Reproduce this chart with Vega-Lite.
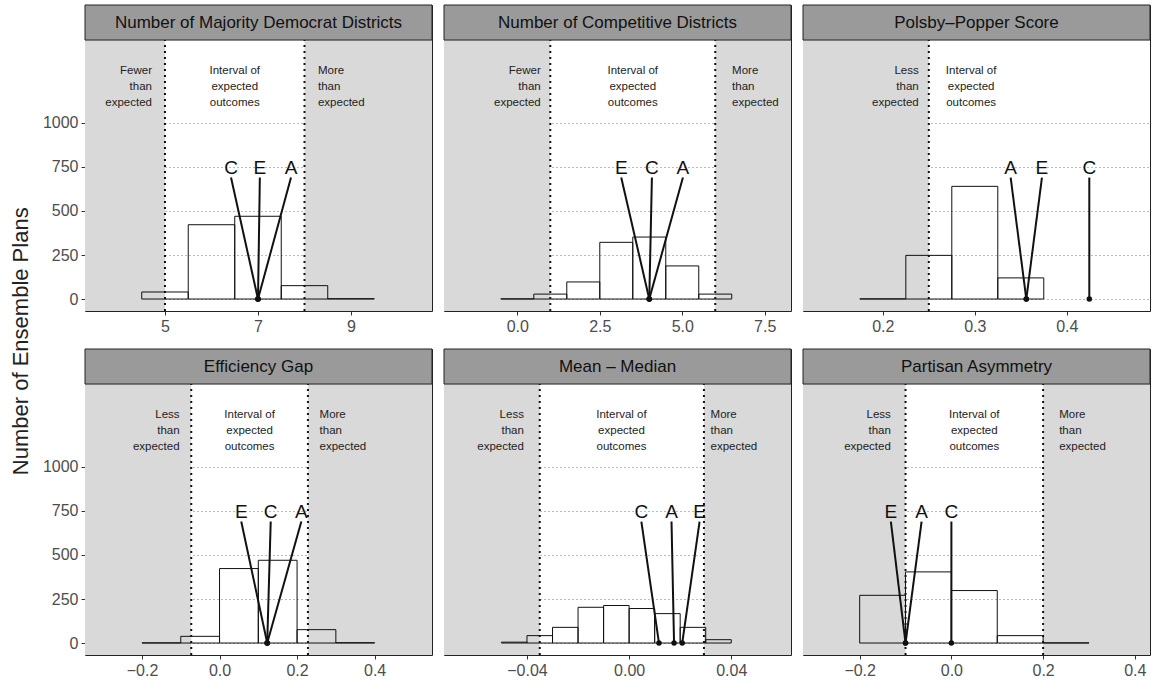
{
"$schema": "https://vega.github.io/schema/vega-lite/v6.json",
"background": "white",
"padding": {"left": 9, "top": 4, "right": 3, "bottom": 3},
"title": {"text": "Number of Ensemble Plans", "orient": "left", "anchor": "middle", "fontSize": 22, "fontWeight": "normal", "font": "Liberation Sans", "color": "#222", "offset": 9},
"datasets": {
"hist": [
{"panel": "dem", "x0": 4.5, "x1": 5.5, "count": 40},
{"panel": "dem", "x0": 5.5, "x1": 6.5, "count": 422},
{"panel": "dem", "x0": 6.5, "x1": 7.5, "count": 470},
{"panel": "dem", "x0": 7.5, "x1": 8.5, "count": 76},
{"panel": "dem", "x0": 8.5, "x1": 9.5, "count": 2},
{"panel": "comp", "x0": -0.5, "x1": 0.5, "count": 1},
{"panel": "comp", "x0": 0.5, "x1": 1.5, "count": 28},
{"panel": "comp", "x0": 1.5, "x1": 2.5, "count": 97},
{"panel": "comp", "x0": 2.5, "x1": 3.5, "count": 322},
{"panel": "comp", "x0": 3.5, "x1": 4.5, "count": 352},
{"panel": "comp", "x0": 4.5, "x1": 5.5, "count": 188},
{"panel": "comp", "x0": 5.5, "x1": 6.5, "count": 28},
{"panel": "pp", "x0": 0.175, "x1": 0.225, "count": 1},
{"panel": "pp", "x0": 0.225, "x1": 0.275, "count": 248},
{"panel": "pp", "x0": 0.275, "x1": 0.325, "count": 640},
{"panel": "pp", "x0": 0.325, "x1": 0.375, "count": 120},
{"panel": "eg", "x0": -0.2, "x1": -0.1, "count": 1},
{"panel": "eg", "x0": -0.1, "x1": 0.0, "count": 38},
{"panel": "eg", "x0": 0.0, "x1": 0.1, "count": 423},
{"panel": "eg", "x0": 0.1, "x1": 0.2, "count": 470},
{"panel": "eg", "x0": 0.2, "x1": 0.3, "count": 76},
{"panel": "eg", "x0": 0.3, "x1": 0.4, "count": 2},
{"panel": "mm", "x0": -0.05, "x1": -0.04, "count": 5},
{"panel": "mm", "x0": -0.04, "x1": -0.03, "count": 42},
{"panel": "mm", "x0": -0.03, "x1": -0.02, "count": 89},
{"panel": "mm", "x0": -0.02, "x1": -0.01, "count": 203},
{"panel": "mm", "x0": -0.01, "x1": 0.0, "count": 213},
{"panel": "mm", "x0": 0.0, "x1": 0.01, "count": 196},
{"panel": "mm", "x0": 0.01, "x1": 0.02, "count": 167},
{"panel": "mm", "x0": 0.02, "x1": 0.03, "count": 89},
{"panel": "mm", "x0": 0.03, "x1": 0.04, "count": 19},
{"panel": "pa", "x0": -0.2, "x1": -0.1, "count": 271},
{"panel": "pa", "x0": -0.1, "x1": 0.0, "count": 404},
{"panel": "pa", "x0": 0.0, "x1": 0.1, "count": 298},
{"panel": "pa", "x0": 0.1, "x1": 0.2, "count": 42},
{"panel": "pa", "x0": 0.2, "x1": 0.3, "count": 1}
],
"bounds": [
{"panel": "dem", "x": 5}, {"panel": "dem", "x": 8},
{"panel": "comp", "x": 1}, {"panel": "comp", "x": 6},
{"panel": "pp", "x": 0.25},
{"panel": "eg", "x": -0.073}, {"panel": "eg", "x": 0.228},
{"panel": "mm", "x": -0.035}, {"panel": "mm", "x": 0.0293},
{"panel": "pa", "x": -0.1}, {"panel": "pa", "x": 0.2}
],
"shade": [
{"panel": "dem", "x0": 3.28, "x1": 5}, {"panel": "dem", "x0": 8, "x1": 10.742},
{"panel": "comp", "x0": -2.222, "x1": 1}, {"panel": "comp", "x0": 6, "x1": 8.296},
{"panel": "pp", "x0": 0.1132, "x1": 0.25},
{"panel": "eg", "x0": -0.347, "x1": -0.073}, {"panel": "eg", "x0": 0.228, "x1": 0.548},
{"panel": "mm", "x0": -0.0725, "x1": -0.035}, {"panel": "mm", "x0": 0.0293, "x1": 0.0634},
{"panel": "pa", "x0": -0.3236, "x1": -0.1}, {"panel": "pa", "x0": 0.2, "x1": 0.4331}
],
"strip": [
{"panel": "dem", "title": "Number of Majority Democrat Districts", "xmin": 3.28, "xmax": 10.742, "xmid": 7.011},
{"panel": "comp", "title": "Number of Competitive Districts", "xmin": -2.222, "xmax": 8.296, "xmid": 3.037},
{"panel": "pp", "title": "Polsby–Popper Score", "xmin": 0.1132, "xmax": 0.4905, "xmid": 0.30185},
{"panel": "eg", "title": "Efficiency Gap", "xmin": -0.347, "xmax": 0.548, "xmid": 0.1005},
{"panel": "mm", "title": "Mean – Median", "xmin": -0.0725, "xmax": 0.0634, "xmid": -0.00455},
{"panel": "pa", "title": "Partisan Asymmetry", "xmin": -0.3236, "xmax": 0.4331, "xmid": 0.05475}
],
"notes": [
{"panel": "dem", "side": "below", "x": 4.72, "note": "Fewer\nthan\nexpected"},
{"panel": "dem", "side": "interval", "x": 6.5, "note": "Interval of\nexpected\noutcomes"},
{"panel": "dem", "side": "above", "x": 8.29, "note": "More\nthan\nexpected"},
{"panel": "comp", "side": "below", "x": 0.71, "note": "Fewer\nthan\nexpected"},
{"panel": "comp", "side": "interval", "x": 3.5, "note": "Interval of\nexpected\noutcomes"},
{"panel": "comp", "side": "above", "x": 6.51, "note": "More\nthan\nexpected"},
{"panel": "pp", "side": "below", "x": 0.239, "note": "Less\nthan\nexpected"},
{"panel": "pp", "side": "interval", "x": 0.296, "note": "Interval of\nexpected\noutcomes"},
{"panel": "eg", "side": "below", "x": -0.103, "note": "Less\nthan\nexpected"},
{"panel": "eg", "side": "interval", "x": 0.0775, "note": "Interval of\nexpected\noutcomes"},
{"panel": "eg", "side": "above", "x": 0.258, "note": "More\nthan\nexpected"},
{"panel": "mm", "side": "below", "x": -0.0412, "note": "Less\nthan\nexpected"},
{"panel": "mm", "side": "interval", "x": -0.003, "note": "Interval of\nexpected\noutcomes"},
{"panel": "mm", "side": "above", "x": 0.0319, "note": "More\nthan\nexpected"},
{"panel": "pa", "side": "below", "x": -0.132, "note": "Less\nthan\nexpected"},
{"panel": "pa", "side": "interval", "x": 0.05, "note": "Interval of\nexpected\noutcomes"},
{"panel": "pa", "side": "above", "x": 0.235, "note": "More\nthan\nexpected"}
],
"plans": [
{"panel": "dem", "plan": "C", "value": 7, "labelx": 6.42},
{"panel": "dem", "plan": "E", "value": 7, "labelx": 7.04},
{"panel": "dem", "plan": "A", "value": 7, "labelx": 7.71},
{"panel": "comp", "plan": "E", "value": 4, "labelx": 3.15},
{"panel": "comp", "plan": "C", "value": 4, "labelx": 4.08},
{"panel": "comp", "plan": "A", "value": 4, "labelx": 5.02},
{"panel": "pp", "plan": "A", "value": 0.356, "labelx": 0.339},
{"panel": "pp", "plan": "E", "value": 0.356, "labelx": 0.373},
{"panel": "pp", "plan": "C", "value": 0.4245, "labelx": 0.4245},
{"panel": "eg", "plan": "E", "value": 0.123, "labelx": 0.056},
{"panel": "eg", "plan": "C", "value": 0.123, "labelx": 0.132},
{"panel": "eg", "plan": "A", "value": 0.123, "labelx": 0.211},
{"panel": "mm", "plan": "C", "value": 0.0117, "labelx": 0.0048},
{"panel": "mm", "plan": "A", "value": 0.0176, "labelx": 0.0166},
{"panel": "mm", "plan": "E", "value": 0.0208, "labelx": 0.0276},
{"panel": "pa", "plan": "E", "value": -0.1, "labelx": -0.132},
{"panel": "pa", "plan": "A", "value": -0.1, "labelx": -0.065},
{"panel": "pa", "plan": "C", "value": 0, "labelx": 0}
]
},
"columns": 3,
"spacing": {"row": 38, "column": 12},
"bounds": "flush",
"concat": [
{"width": 347, "height": 306, "layer": [
{"data": {"name": "shade"}, "transform": [{"filter": {"field": "panel", "equal": "dem"}}], "mark": {"type": "rect", "fill": "#d9d9d9"},
 "encoding": {"x": {"field": "x0", "type": "quantitative", "title": null, "scale": {"domain": [3.28, 10.742], "nice": false, "zero": false}, "axis": {"values": [5, 7, 9], "format": "d", "title": null}}, "x2": {"field": "x1"},
  "y": {"datum": -68, "type": "quantitative", "title": null, "scale": {"domain": [-68, 1670], "nice": false, "zero": false}, "axis": {"values": [0, 250, 500, 750, 1000], "format": "d", "title": null}}, "y2": {"datum": 1471}}},
{"data": {"name": "hist"}, "transform": [{"filter": {"field": "panel", "equal": "dem"}}], "mark": {"type": "rect", "fill": "transparent", "stroke": "#111", "strokeWidth": 1},
 "encoding": {"x": {"field": "x0", "type": "quantitative", "title": null}, "x2": {"field": "x1"}, "y": {"field": "count", "type": "quantitative", "title": null}, "y2": {"datum": 0}}},
{"data": {"name": "bounds"}, "transform": [{"filter": {"field": "panel", "equal": "dem"}}], "mark": {"type": "rule", "strokeDash": [2, 4], "strokeWidth": 2, "color": "#111"},
 "encoding": {"x": {"field": "x", "type": "quantitative", "title": null}, "y": {"datum": -68, "type": "quantitative", "title": null}, "y2": {"datum": 1471}}},
{"data": {"name": "notes"}, "transform": [{"filter": {"and": [{"field": "panel", "equal": "dem"}, {"field": "side", "equal": "below"}]}}], "mark": {"type": "text", "align": "right", "baseline": "middle", "lineBreak": "\n", "lineHeight": 16, "fontSize": 11.5, "font": "Liberation Sans", "color": "#222"},
 "encoding": {"x": {"field": "x", "type": "quantitative", "title": null}, "y": {"datum": 1295, "type": "quantitative", "title": null}, "text": {"field": "note"}}},
{"data": {"name": "notes"}, "transform": [{"filter": {"and": [{"field": "panel", "equal": "dem"}, {"field": "side", "equal": "interval"}]}}], "mark": {"type": "text", "align": "center", "baseline": "middle", "lineBreak": "\n", "lineHeight": 16, "fontSize": 11.5, "font": "Liberation Sans", "color": "#222"},
 "encoding": {"x": {"field": "x", "type": "quantitative", "title": null}, "y": {"datum": 1295, "type": "quantitative", "title": null}, "text": {"field": "note"}}},
{"data": {"name": "notes"}, "transform": [{"filter": {"and": [{"field": "panel", "equal": "dem"}, {"field": "side", "equal": "above"}]}}], "mark": {"type": "text", "align": "left", "baseline": "middle", "lineBreak": "\n", "lineHeight": 16, "fontSize": 11.5, "font": "Liberation Sans", "color": "#222"},
 "encoding": {"x": {"field": "x", "type": "quantitative", "title": null}, "y": {"datum": 1295, "type": "quantitative", "title": null}, "text": {"field": "note"}}},
{"data": {"name": "plans"}, "transform": [{"filter": {"field": "panel", "equal": "dem"}}], "mark": {"type": "rule", "strokeWidth": 2, "color": "#111"},
 "encoding": {"x": {"field": "labelx", "type": "quantitative", "title": null}, "x2": {"field": "value"}, "y": {"datum": 690, "type": "quantitative", "title": null}, "y2": {"datum": 0}}},
{"data": {"name": "plans"}, "transform": [{"filter": {"field": "panel", "equal": "dem"}}], "mark": {"type": "point", "filled": true, "size": 30, "color": "#111", "opacity": 1},
 "encoding": {"x": {"field": "value", "type": "quantitative", "title": null}, "y": {"datum": 0, "type": "quantitative", "title": null}}},
{"data": {"name": "plans"}, "transform": [{"filter": {"field": "panel", "equal": "dem"}}], "mark": {"type": "text", "fontSize": 19, "font": "Liberation Sans", "baseline": "middle", "align": "center", "color": "#111"},
 "encoding": {"x": {"field": "labelx", "type": "quantitative", "title": null}, "y": {"datum": 745, "type": "quantitative", "title": null}, "text": {"field": "plan"}}},
{"data": {"name": "strip"}, "transform": [{"filter": {"field": "panel", "equal": "dem"}}], "mark": {"type": "rect", "fill": "#9a9a9a", "stroke": "#222", "strokeWidth": 1},
 "encoding": {"x": {"field": "xmin", "type": "quantitative", "title": null}, "x2": {"field": "xmax"}, "y": {"datum": 1471, "type": "quantitative", "title": null}, "y2": {"datum": 1670}}},
{"data": {"name": "strip"}, "transform": [{"filter": {"field": "panel", "equal": "dem"}}], "mark": {"type": "text", "fontSize": 17, "font": "Liberation Sans", "baseline": "middle", "align": "center", "color": "#111"},
 "encoding": {"x": {"field": "xmid", "type": "quantitative", "title": null}, "y": {"datum": 1570, "type": "quantitative", "title": null}, "text": {"field": "title"}}}
]},
{"width": 347, "height": 306, "layer": [
{"data": {"name": "shade"}, "transform": [{"filter": {"field": "panel", "equal": "comp"}}], "mark": {"type": "rect", "fill": "#d9d9d9"},
 "encoding": {"x": {"field": "x0", "type": "quantitative", "title": null, "scale": {"domain": [-2.222, 8.296], "nice": false, "zero": false}, "axis": {"values": [0, 2.5, 5, 7.5], "format": ".1f", "title": null}}, "x2": {"field": "x1"},
  "y": {"datum": -68, "type": "quantitative", "title": null, "scale": {"domain": [-68, 1670], "nice": false, "zero": false}, "axis": {"values": [0, 250, 500, 750, 1000], "title": null, "labels": false, "ticks": false}}, "y2": {"datum": 1471}}},
{"data": {"name": "hist"}, "transform": [{"filter": {"field": "panel", "equal": "comp"}}], "mark": {"type": "rect", "fill": "transparent", "stroke": "#111", "strokeWidth": 1},
 "encoding": {"x": {"field": "x0", "type": "quantitative", "title": null}, "x2": {"field": "x1"}, "y": {"field": "count", "type": "quantitative", "title": null}, "y2": {"datum": 0}}},
{"data": {"name": "bounds"}, "transform": [{"filter": {"field": "panel", "equal": "comp"}}], "mark": {"type": "rule", "strokeDash": [2, 4], "strokeWidth": 2, "color": "#111"},
 "encoding": {"x": {"field": "x", "type": "quantitative", "title": null}, "y": {"datum": -68, "type": "quantitative", "title": null}, "y2": {"datum": 1471}}},
{"data": {"name": "notes"}, "transform": [{"filter": {"and": [{"field": "panel", "equal": "comp"}, {"field": "side", "equal": "below"}]}}], "mark": {"type": "text", "align": "right", "baseline": "middle", "lineBreak": "\n", "lineHeight": 16, "fontSize": 11.5, "font": "Liberation Sans", "color": "#222"},
 "encoding": {"x": {"field": "x", "type": "quantitative", "title": null}, "y": {"datum": 1295, "type": "quantitative", "title": null}, "text": {"field": "note"}}},
{"data": {"name": "notes"}, "transform": [{"filter": {"and": [{"field": "panel", "equal": "comp"}, {"field": "side", "equal": "interval"}]}}], "mark": {"type": "text", "align": "center", "baseline": "middle", "lineBreak": "\n", "lineHeight": 16, "fontSize": 11.5, "font": "Liberation Sans", "color": "#222"},
 "encoding": {"x": {"field": "x", "type": "quantitative", "title": null}, "y": {"datum": 1295, "type": "quantitative", "title": null}, "text": {"field": "note"}}},
{"data": {"name": "notes"}, "transform": [{"filter": {"and": [{"field": "panel", "equal": "comp"}, {"field": "side", "equal": "above"}]}}], "mark": {"type": "text", "align": "left", "baseline": "middle", "lineBreak": "\n", "lineHeight": 16, "fontSize": 11.5, "font": "Liberation Sans", "color": "#222"},
 "encoding": {"x": {"field": "x", "type": "quantitative", "title": null}, "y": {"datum": 1295, "type": "quantitative", "title": null}, "text": {"field": "note"}}},
{"data": {"name": "plans"}, "transform": [{"filter": {"field": "panel", "equal": "comp"}}], "mark": {"type": "rule", "strokeWidth": 2, "color": "#111"},
 "encoding": {"x": {"field": "labelx", "type": "quantitative", "title": null}, "x2": {"field": "value"}, "y": {"datum": 690, "type": "quantitative", "title": null}, "y2": {"datum": 0}}},
{"data": {"name": "plans"}, "transform": [{"filter": {"field": "panel", "equal": "comp"}}], "mark": {"type": "point", "filled": true, "size": 30, "color": "#111", "opacity": 1},
 "encoding": {"x": {"field": "value", "type": "quantitative", "title": null}, "y": {"datum": 0, "type": "quantitative", "title": null}}},
{"data": {"name": "plans"}, "transform": [{"filter": {"field": "panel", "equal": "comp"}}], "mark": {"type": "text", "fontSize": 19, "font": "Liberation Sans", "baseline": "middle", "align": "center", "color": "#111"},
 "encoding": {"x": {"field": "labelx", "type": "quantitative", "title": null}, "y": {"datum": 745, "type": "quantitative", "title": null}, "text": {"field": "plan"}}},
{"data": {"name": "strip"}, "transform": [{"filter": {"field": "panel", "equal": "comp"}}], "mark": {"type": "rect", "fill": "#9a9a9a", "stroke": "#222", "strokeWidth": 1},
 "encoding": {"x": {"field": "xmin", "type": "quantitative", "title": null}, "x2": {"field": "xmax"}, "y": {"datum": 1471, "type": "quantitative", "title": null}, "y2": {"datum": 1670}}},
{"data": {"name": "strip"}, "transform": [{"filter": {"field": "panel", "equal": "comp"}}], "mark": {"type": "text", "fontSize": 17, "font": "Liberation Sans", "baseline": "middle", "align": "center", "color": "#111"},
 "encoding": {"x": {"field": "xmid", "type": "quantitative", "title": null}, "y": {"datum": 1570, "type": "quantitative", "title": null}, "text": {"field": "title"}}}
]},
{"width": 347, "height": 306, "layer": [
{"data": {"name": "shade"}, "transform": [{"filter": {"field": "panel", "equal": "pp"}}], "mark": {"type": "rect", "fill": "#d9d9d9"},
 "encoding": {"x": {"field": "x0", "type": "quantitative", "title": null, "scale": {"domain": [0.1132, 0.4905], "nice": false, "zero": false}, "axis": {"values": [0.2, 0.3, 0.4], "format": ".1f", "title": null}}, "x2": {"field": "x1"},
  "y": {"datum": -68, "type": "quantitative", "title": null, "scale": {"domain": [-68, 1670], "nice": false, "zero": false}, "axis": {"values": [0, 250, 500, 750, 1000], "title": null, "labels": false, "ticks": false}}, "y2": {"datum": 1471}}},
{"data": {"name": "hist"}, "transform": [{"filter": {"field": "panel", "equal": "pp"}}], "mark": {"type": "rect", "fill": "transparent", "stroke": "#111", "strokeWidth": 1},
 "encoding": {"x": {"field": "x0", "type": "quantitative", "title": null}, "x2": {"field": "x1"}, "y": {"field": "count", "type": "quantitative", "title": null}, "y2": {"datum": 0}}},
{"data": {"name": "bounds"}, "transform": [{"filter": {"field": "panel", "equal": "pp"}}], "mark": {"type": "rule", "strokeDash": [2, 4], "strokeWidth": 2, "color": "#111"},
 "encoding": {"x": {"field": "x", "type": "quantitative", "title": null}, "y": {"datum": -68, "type": "quantitative", "title": null}, "y2": {"datum": 1471}}},
{"data": {"name": "notes"}, "transform": [{"filter": {"and": [{"field": "panel", "equal": "pp"}, {"field": "side", "equal": "below"}]}}], "mark": {"type": "text", "align": "right", "baseline": "middle", "lineBreak": "\n", "lineHeight": 16, "fontSize": 11.5, "font": "Liberation Sans", "color": "#222"},
 "encoding": {"x": {"field": "x", "type": "quantitative", "title": null}, "y": {"datum": 1295, "type": "quantitative", "title": null}, "text": {"field": "note"}}},
{"data": {"name": "notes"}, "transform": [{"filter": {"and": [{"field": "panel", "equal": "pp"}, {"field": "side", "equal": "interval"}]}}], "mark": {"type": "text", "align": "center", "baseline": "middle", "lineBreak": "\n", "lineHeight": 16, "fontSize": 11.5, "font": "Liberation Sans", "color": "#222"},
 "encoding": {"x": {"field": "x", "type": "quantitative", "title": null}, "y": {"datum": 1295, "type": "quantitative", "title": null}, "text": {"field": "note"}}},
{"data": {"name": "plans"}, "transform": [{"filter": {"field": "panel", "equal": "pp"}}], "mark": {"type": "rule", "strokeWidth": 2, "color": "#111"},
 "encoding": {"x": {"field": "labelx", "type": "quantitative", "title": null}, "x2": {"field": "value"}, "y": {"datum": 690, "type": "quantitative", "title": null}, "y2": {"datum": 0}}},
{"data": {"name": "plans"}, "transform": [{"filter": {"field": "panel", "equal": "pp"}}], "mark": {"type": "point", "filled": true, "size": 30, "color": "#111", "opacity": 1},
 "encoding": {"x": {"field": "value", "type": "quantitative", "title": null}, "y": {"datum": 0, "type": "quantitative", "title": null}}},
{"data": {"name": "plans"}, "transform": [{"filter": {"field": "panel", "equal": "pp"}}], "mark": {"type": "text", "fontSize": 19, "font": "Liberation Sans", "baseline": "middle", "align": "center", "color": "#111"},
 "encoding": {"x": {"field": "labelx", "type": "quantitative", "title": null}, "y": {"datum": 745, "type": "quantitative", "title": null}, "text": {"field": "plan"}}},
{"data": {"name": "strip"}, "transform": [{"filter": {"field": "panel", "equal": "pp"}}], "mark": {"type": "rect", "fill": "#9a9a9a", "stroke": "#222", "strokeWidth": 1},
 "encoding": {"x": {"field": "xmin", "type": "quantitative", "title": null}, "x2": {"field": "xmax"}, "y": {"datum": 1471, "type": "quantitative", "title": null}, "y2": {"datum": 1670}}},
{"data": {"name": "strip"}, "transform": [{"filter": {"field": "panel", "equal": "pp"}}], "mark": {"type": "text", "fontSize": 17, "font": "Liberation Sans", "baseline": "middle", "align": "center", "color": "#111"},
 "encoding": {"x": {"field": "xmid", "type": "quantitative", "title": null}, "y": {"datum": 1570, "type": "quantitative", "title": null}, "text": {"field": "title"}}}
]},
{"width": 347, "height": 306, "layer": [
{"data": {"name": "shade"}, "transform": [{"filter": {"field": "panel", "equal": "eg"}}], "mark": {"type": "rect", "fill": "#d9d9d9"},
 "encoding": {"x": {"field": "x0", "type": "quantitative", "title": null, "scale": {"domain": [-0.347, 0.548], "nice": false, "zero": false}, "axis": {"values": [-0.2, 0, 0.2, 0.4], "format": ".1f", "title": null}}, "x2": {"field": "x1"},
  "y": {"datum": -68, "type": "quantitative", "title": null, "scale": {"domain": [-68, 1670], "nice": false, "zero": false}, "axis": {"values": [0, 250, 500, 750, 1000], "format": "d", "title": null}}, "y2": {"datum": 1471}}},
{"data": {"name": "hist"}, "transform": [{"filter": {"field": "panel", "equal": "eg"}}], "mark": {"type": "rect", "fill": "transparent", "stroke": "#111", "strokeWidth": 1},
 "encoding": {"x": {"field": "x0", "type": "quantitative", "title": null}, "x2": {"field": "x1"}, "y": {"field": "count", "type": "quantitative", "title": null}, "y2": {"datum": 0}}},
{"data": {"name": "bounds"}, "transform": [{"filter": {"field": "panel", "equal": "eg"}}], "mark": {"type": "rule", "strokeDash": [2, 4], "strokeWidth": 2, "color": "#111"},
 "encoding": {"x": {"field": "x", "type": "quantitative", "title": null}, "y": {"datum": -68, "type": "quantitative", "title": null}, "y2": {"datum": 1471}}},
{"data": {"name": "notes"}, "transform": [{"filter": {"and": [{"field": "panel", "equal": "eg"}, {"field": "side", "equal": "below"}]}}], "mark": {"type": "text", "align": "right", "baseline": "middle", "lineBreak": "\n", "lineHeight": 16, "fontSize": 11.5, "font": "Liberation Sans", "color": "#222"},
 "encoding": {"x": {"field": "x", "type": "quantitative", "title": null}, "y": {"datum": 1295, "type": "quantitative", "title": null}, "text": {"field": "note"}}},
{"data": {"name": "notes"}, "transform": [{"filter": {"and": [{"field": "panel", "equal": "eg"}, {"field": "side", "equal": "interval"}]}}], "mark": {"type": "text", "align": "center", "baseline": "middle", "lineBreak": "\n", "lineHeight": 16, "fontSize": 11.5, "font": "Liberation Sans", "color": "#222"},
 "encoding": {"x": {"field": "x", "type": "quantitative", "title": null}, "y": {"datum": 1295, "type": "quantitative", "title": null}, "text": {"field": "note"}}},
{"data": {"name": "notes"}, "transform": [{"filter": {"and": [{"field": "panel", "equal": "eg"}, {"field": "side", "equal": "above"}]}}], "mark": {"type": "text", "align": "left", "baseline": "middle", "lineBreak": "\n", "lineHeight": 16, "fontSize": 11.5, "font": "Liberation Sans", "color": "#222"},
 "encoding": {"x": {"field": "x", "type": "quantitative", "title": null}, "y": {"datum": 1295, "type": "quantitative", "title": null}, "text": {"field": "note"}}},
{"data": {"name": "plans"}, "transform": [{"filter": {"field": "panel", "equal": "eg"}}], "mark": {"type": "rule", "strokeWidth": 2, "color": "#111"},
 "encoding": {"x": {"field": "labelx", "type": "quantitative", "title": null}, "x2": {"field": "value"}, "y": {"datum": 690, "type": "quantitative", "title": null}, "y2": {"datum": 0}}},
{"data": {"name": "plans"}, "transform": [{"filter": {"field": "panel", "equal": "eg"}}], "mark": {"type": "point", "filled": true, "size": 30, "color": "#111", "opacity": 1},
 "encoding": {"x": {"field": "value", "type": "quantitative", "title": null}, "y": {"datum": 0, "type": "quantitative", "title": null}}},
{"data": {"name": "plans"}, "transform": [{"filter": {"field": "panel", "equal": "eg"}}], "mark": {"type": "text", "fontSize": 19, "font": "Liberation Sans", "baseline": "middle", "align": "center", "color": "#111"},
 "encoding": {"x": {"field": "labelx", "type": "quantitative", "title": null}, "y": {"datum": 745, "type": "quantitative", "title": null}, "text": {"field": "plan"}}},
{"data": {"name": "strip"}, "transform": [{"filter": {"field": "panel", "equal": "eg"}}], "mark": {"type": "rect", "fill": "#9a9a9a", "stroke": "#222", "strokeWidth": 1},
 "encoding": {"x": {"field": "xmin", "type": "quantitative", "title": null}, "x2": {"field": "xmax"}, "y": {"datum": 1471, "type": "quantitative", "title": null}, "y2": {"datum": 1670}}},
{"data": {"name": "strip"}, "transform": [{"filter": {"field": "panel", "equal": "eg"}}], "mark": {"type": "text", "fontSize": 17, "font": "Liberation Sans", "baseline": "middle", "align": "center", "color": "#111"},
 "encoding": {"x": {"field": "xmid", "type": "quantitative", "title": null}, "y": {"datum": 1570, "type": "quantitative", "title": null}, "text": {"field": "title"}}}
]},
{"width": 347, "height": 306, "layer": [
{"data": {"name": "shade"}, "transform": [{"filter": {"field": "panel", "equal": "mm"}}], "mark": {"type": "rect", "fill": "#d9d9d9"},
 "encoding": {"x": {"field": "x0", "type": "quantitative", "title": null, "scale": {"domain": [-0.0725, 0.0634], "nice": false, "zero": false}, "axis": {"values": [-0.04, 0, 0.04], "format": ".2f", "title": null}}, "x2": {"field": "x1"},
  "y": {"datum": -68, "type": "quantitative", "title": null, "scale": {"domain": [-68, 1670], "nice": false, "zero": false}, "axis": {"values": [0, 250, 500, 750, 1000], "title": null, "labels": false, "ticks": false}}, "y2": {"datum": 1471}}},
{"data": {"name": "hist"}, "transform": [{"filter": {"field": "panel", "equal": "mm"}}], "mark": {"type": "rect", "fill": "transparent", "stroke": "#111", "strokeWidth": 1},
 "encoding": {"x": {"field": "x0", "type": "quantitative", "title": null}, "x2": {"field": "x1"}, "y": {"field": "count", "type": "quantitative", "title": null}, "y2": {"datum": 0}}},
{"data": {"name": "bounds"}, "transform": [{"filter": {"field": "panel", "equal": "mm"}}], "mark": {"type": "rule", "strokeDash": [2, 4], "strokeWidth": 2, "color": "#111"},
 "encoding": {"x": {"field": "x", "type": "quantitative", "title": null}, "y": {"datum": -68, "type": "quantitative", "title": null}, "y2": {"datum": 1471}}},
{"data": {"name": "notes"}, "transform": [{"filter": {"and": [{"field": "panel", "equal": "mm"}, {"field": "side", "equal": "below"}]}}], "mark": {"type": "text", "align": "right", "baseline": "middle", "lineBreak": "\n", "lineHeight": 16, "fontSize": 11.5, "font": "Liberation Sans", "color": "#222"},
 "encoding": {"x": {"field": "x", "type": "quantitative", "title": null}, "y": {"datum": 1295, "type": "quantitative", "title": null}, "text": {"field": "note"}}},
{"data": {"name": "notes"}, "transform": [{"filter": {"and": [{"field": "panel", "equal": "mm"}, {"field": "side", "equal": "interval"}]}}], "mark": {"type": "text", "align": "center", "baseline": "middle", "lineBreak": "\n", "lineHeight": 16, "fontSize": 11.5, "font": "Liberation Sans", "color": "#222"},
 "encoding": {"x": {"field": "x", "type": "quantitative", "title": null}, "y": {"datum": 1295, "type": "quantitative", "title": null}, "text": {"field": "note"}}},
{"data": {"name": "notes"}, "transform": [{"filter": {"and": [{"field": "panel", "equal": "mm"}, {"field": "side", "equal": "above"}]}}], "mark": {"type": "text", "align": "left", "baseline": "middle", "lineBreak": "\n", "lineHeight": 16, "fontSize": 11.5, "font": "Liberation Sans", "color": "#222"},
 "encoding": {"x": {"field": "x", "type": "quantitative", "title": null}, "y": {"datum": 1295, "type": "quantitative", "title": null}, "text": {"field": "note"}}},
{"data": {"name": "plans"}, "transform": [{"filter": {"field": "panel", "equal": "mm"}}], "mark": {"type": "rule", "strokeWidth": 2, "color": "#111"},
 "encoding": {"x": {"field": "labelx", "type": "quantitative", "title": null}, "x2": {"field": "value"}, "y": {"datum": 690, "type": "quantitative", "title": null}, "y2": {"datum": 0}}},
{"data": {"name": "plans"}, "transform": [{"filter": {"field": "panel", "equal": "mm"}}], "mark": {"type": "point", "filled": true, "size": 30, "color": "#111", "opacity": 1},
 "encoding": {"x": {"field": "value", "type": "quantitative", "title": null}, "y": {"datum": 0, "type": "quantitative", "title": null}}},
{"data": {"name": "plans"}, "transform": [{"filter": {"field": "panel", "equal": "mm"}}], "mark": {"type": "text", "fontSize": 19, "font": "Liberation Sans", "baseline": "middle", "align": "center", "color": "#111"},
 "encoding": {"x": {"field": "labelx", "type": "quantitative", "title": null}, "y": {"datum": 745, "type": "quantitative", "title": null}, "text": {"field": "plan"}}},
{"data": {"name": "strip"}, "transform": [{"filter": {"field": "panel", "equal": "mm"}}], "mark": {"type": "rect", "fill": "#9a9a9a", "stroke": "#222", "strokeWidth": 1},
 "encoding": {"x": {"field": "xmin", "type": "quantitative", "title": null}, "x2": {"field": "xmax"}, "y": {"datum": 1471, "type": "quantitative", "title": null}, "y2": {"datum": 1670}}},
{"data": {"name": "strip"}, "transform": [{"filter": {"field": "panel", "equal": "mm"}}], "mark": {"type": "text", "fontSize": 17, "font": "Liberation Sans", "baseline": "middle", "align": "center", "color": "#111"},
 "encoding": {"x": {"field": "xmid", "type": "quantitative", "title": null}, "y": {"datum": 1570, "type": "quantitative", "title": null}, "text": {"field": "title"}}}
]},
{"width": 347, "height": 306, "layer": [
{"data": {"name": "shade"}, "transform": [{"filter": {"field": "panel", "equal": "pa"}}], "mark": {"type": "rect", "fill": "#d9d9d9"},
 "encoding": {"x": {"field": "x0", "type": "quantitative", "title": null, "scale": {"domain": [-0.3236, 0.4331], "nice": false, "zero": false}, "axis": {"values": [-0.2, 0, 0.2, 0.4], "format": ".1f", "title": null}}, "x2": {"field": "x1"},
  "y": {"datum": -68, "type": "quantitative", "title": null, "scale": {"domain": [-68, 1670], "nice": false, "zero": false}, "axis": {"values": [0, 250, 500, 750, 1000], "title": null, "labels": false, "ticks": false}}, "y2": {"datum": 1471}}},
{"data": {"name": "hist"}, "transform": [{"filter": {"field": "panel", "equal": "pa"}}], "mark": {"type": "rect", "fill": "transparent", "stroke": "#111", "strokeWidth": 1},
 "encoding": {"x": {"field": "x0", "type": "quantitative", "title": null}, "x2": {"field": "x1"}, "y": {"field": "count", "type": "quantitative", "title": null}, "y2": {"datum": 0}}},
{"data": {"name": "bounds"}, "transform": [{"filter": {"field": "panel", "equal": "pa"}}], "mark": {"type": "rule", "strokeDash": [2, 4], "strokeWidth": 2, "color": "#111"},
 "encoding": {"x": {"field": "x", "type": "quantitative", "title": null}, "y": {"datum": -68, "type": "quantitative", "title": null}, "y2": {"datum": 1471}}},
{"data": {"name": "notes"}, "transform": [{"filter": {"and": [{"field": "panel", "equal": "pa"}, {"field": "side", "equal": "below"}]}}], "mark": {"type": "text", "align": "right", "baseline": "middle", "lineBreak": "\n", "lineHeight": 16, "fontSize": 11.5, "font": "Liberation Sans", "color": "#222"},
 "encoding": {"x": {"field": "x", "type": "quantitative", "title": null}, "y": {"datum": 1295, "type": "quantitative", "title": null}, "text": {"field": "note"}}},
{"data": {"name": "notes"}, "transform": [{"filter": {"and": [{"field": "panel", "equal": "pa"}, {"field": "side", "equal": "interval"}]}}], "mark": {"type": "text", "align": "center", "baseline": "middle", "lineBreak": "\n", "lineHeight": 16, "fontSize": 11.5, "font": "Liberation Sans", "color": "#222"},
 "encoding": {"x": {"field": "x", "type": "quantitative", "title": null}, "y": {"datum": 1295, "type": "quantitative", "title": null}, "text": {"field": "note"}}},
{"data": {"name": "notes"}, "transform": [{"filter": {"and": [{"field": "panel", "equal": "pa"}, {"field": "side", "equal": "above"}]}}], "mark": {"type": "text", "align": "left", "baseline": "middle", "lineBreak": "\n", "lineHeight": 16, "fontSize": 11.5, "font": "Liberation Sans", "color": "#222"},
 "encoding": {"x": {"field": "x", "type": "quantitative", "title": null}, "y": {"datum": 1295, "type": "quantitative", "title": null}, "text": {"field": "note"}}},
{"data": {"name": "plans"}, "transform": [{"filter": {"field": "panel", "equal": "pa"}}], "mark": {"type": "rule", "strokeWidth": 2, "color": "#111"},
 "encoding": {"x": {"field": "labelx", "type": "quantitative", "title": null}, "x2": {"field": "value"}, "y": {"datum": 690, "type": "quantitative", "title": null}, "y2": {"datum": 0}}},
{"data": {"name": "plans"}, "transform": [{"filter": {"field": "panel", "equal": "pa"}}], "mark": {"type": "point", "filled": true, "size": 30, "color": "#111", "opacity": 1},
 "encoding": {"x": {"field": "value", "type": "quantitative", "title": null}, "y": {"datum": 0, "type": "quantitative", "title": null}}},
{"data": {"name": "plans"}, "transform": [{"filter": {"field": "panel", "equal": "pa"}}], "mark": {"type": "text", "fontSize": 19, "font": "Liberation Sans", "baseline": "middle", "align": "center", "color": "#111"},
 "encoding": {"x": {"field": "labelx", "type": "quantitative", "title": null}, "y": {"datum": 745, "type": "quantitative", "title": null}, "text": {"field": "plan"}}},
{"data": {"name": "strip"}, "transform": [{"filter": {"field": "panel", "equal": "pa"}}], "mark": {"type": "rect", "fill": "#9a9a9a", "stroke": "#222", "strokeWidth": 1},
 "encoding": {"x": {"field": "xmin", "type": "quantitative", "title": null}, "x2": {"field": "xmax"}, "y": {"datum": 1471, "type": "quantitative", "title": null}, "y2": {"datum": 1670}}},
{"data": {"name": "strip"}, "transform": [{"filter": {"field": "panel", "equal": "pa"}}], "mark": {"type": "text", "fontSize": 17, "font": "Liberation Sans", "baseline": "middle", "align": "center", "color": "#111"},
 "encoding": {"x": {"field": "xmid", "type": "quantitative", "title": null}, "y": {"datum": 1570, "type": "quantitative", "title": null}, "text": {"field": "title"}}}
]}
],
"config": {
"view": {"stroke": "#222", "strokeWidth": 1},
"axis": {"domain": false, "grid": false, "tickSize": 4, "tickColor": "#333", "labelFont": "Liberation Sans", "labelFontSize": 16, "labelColor": "#4d4d4d", "labelPadding": 3},
"axisX": {"grid": false},
"axisY": {"grid": true, "gridDash": [1, 3], "gridColor": "#777", "gridWidth": 1}
}
}
